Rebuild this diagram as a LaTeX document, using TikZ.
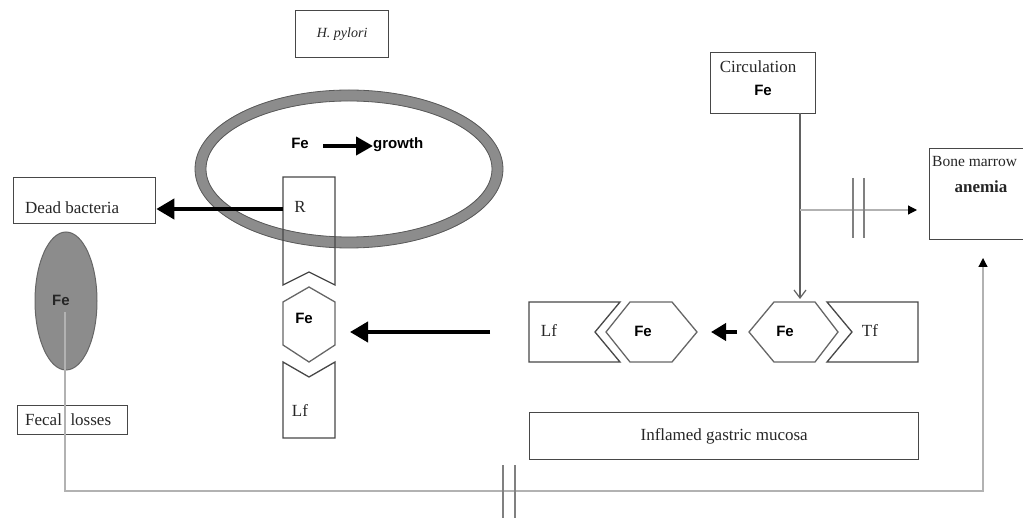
\documentclass[tikz,border=0pt]{standalone}
\usepackage{fontspec}
\setmainfont{Liberation Serif}
\newfontfamily\sansfam{Liberation Sans}
\usetikzlibrary{arrows.meta,shapes.geometric}
\begin{document}
\begin{tikzpicture}[x=1pt,y=-1pt,
  boxline/.style={draw=black!72, line width=1.3pt},
  rectbox/.style={boxline, rectangle, inner sep=0pt, anchor=north west},
  serif/.style={font=\fontsize{17}{20}\selectfont, inner sep=0pt, text=black!85},
  sansbold/.style={font=\sansfam\bfseries\fontsize{15}{18}\selectfont, inner sep=0pt},
  bigarrow/.style={line width=4pt, -{Triangle[length=18pt,width=20pt]}},
  midarrow/.style={line width=4pt, -{Triangle[length=15pt,width=17pt]}},
  thinline/.style={draw=black!30, line width=1.2pt},
  breakmark/.style={draw=black!50, line width=1.3pt},
  smalltip/.style={-{Triangle[length=9pt,width=9pt,color=black]}},
]
\useasboundingbox (0,0) rectangle (1023,518);
\clip (0,0) rectangle (1023,518);

% H. pylori label
\node[rectbox, minimum width=93pt, minimum height=47pt] (hpbox) at (295,10) {};
\node[font=\itshape\fontsize{14}{17}\selectfont, inner sep=0pt, text=black!85] (hpy) at (hpbox.center) {H. pylori};

% bacterium cell ring
\node[ellipse, draw=black!45, line width=11pt, minimum width=297pt, minimum height=147pt, inner sep=0pt] (cell) at (349,169) {};
\draw[draw=black!65, line width=0.8pt] (cell.center) ellipse [x radius=154pt, y radius=79pt];
\draw[draw=black!65, line width=0.8pt] (cell.center) ellipse [x radius=143pt, y radius=68pt];

% Fe -> growth
\node[sansbold] (fecell) at (300,143) {Fe};
\node[sansbold, anchor=west] (growth) at (373,145) {growth};
\coordinate (fgA) at (323,146);
\draw[line width=4pt, -{Triangle[length=17pt,width=18pt]}] (fgA) -- (fgA -| growth.west);

% Dead bacteria
\node[rectbox, minimum width=142pt, minimum height=46pt] (dead) at (13,177) {};
\node[serif, anchor=west] (deadt) at (25,208) {Dead bacteria};

% receptor column
\draw[boxline] (283,177) -- (335,177) -- (335,285) -- (309,272) -- (283,285) -- cycle;
\node[serif] (Rl) at (300,207) {R};
\draw[boxline, draw=black!60] (309,287) -- (335,302) -- (335,345) -- (309,362) -- (283,345) -- (283,302) -- cycle;
\node[sansbold] (colfe) at (304,318) {Fe};
\draw[boxline] (283,362) -- (309,377) -- (335,362) -- (335,438) -- (283,438) -- cycle;
\node[serif] (collf) at (300,411) {Lf};

\coordinate (Rw) at (283,209);
\draw[bigarrow] (Rw) -- (Rw -| dead.east);

% left Fe ellipse
\node[ellipse, draw=black!60, fill=black!45, line width=1pt, minimum width=62pt, minimum height=138pt, inner sep=0pt] (leftfe) at (66,301) {};
\node[sansbold, text=black!85] (leftfet) at (61,300) {Fe};

% Fecal losses
\node[rectbox, minimum width=110pt, minimum height=29pt] (fecal) at (17,405) {};
\node[serif, anchor=west] (fecalt) at (25,420) {Fecal~~losses};

% bottom loss line to bone marrow
\coordinate (lossstart) at (65,312);
\coordinate (bmin) at (983,258);
\draw[thinline, smalltip] (lossstart) -- (65,491) -- (983,491) -- (bmin);
\draw[breakmark] (503,465) -- (503,520);
\draw[breakmark] (515,465) -- (515,520);

% row: Lf - Fe  <-  Fe - Tf
\draw[boxline] (529,302) -- (620,302) -- (595,332) -- (620,362) -- (529,362) -- cycle;
\node[serif] (rowlf) at (549,331) {Lf};
\draw[boxline, draw=black!60] (606,332) -- (630,302) -- (672,302) -- (697,332) -- (672,362) -- (630,362) -- cycle;
\node[sansbold] (rowfe1) at (643,331) {Fe};
\draw[boxline, draw=black!60] (749,332) -- (774,302) -- (815,302) -- (838,332) -- (815,362) -- (774,362) -- cycle;
\node[sansbold] (rowfe2) at (785,331) {Fe};
\draw[boxline] (827,302) -- (918,302) -- (918,362) -- (827,362) -- (852,332) -- cycle;
\node[serif] (rowtf) at (870,331) {Tf};

\coordinate (midtail) at (737,332);
\coordinate (midtip) at (711,332);
\draw[midarrow] (midtail) -- (midtip);

\coordinate (rowtail) at (490,332);
\coordinate (coltip) at (350,332);
\draw[bigarrow] (rowtail) -- (coltip);

% Inflamed gastric mucosa
\node[rectbox, minimum width=389pt, minimum height=47pt] (mucosa) at (529,412) {};
\node[serif] (mucosat) at (mucosa.center) {Inflamed gastric mucosa};

% Circulation
\node[rectbox, minimum width=105pt, minimum height=61pt] (circ) at (710,52) {};
\node[serif] (circt) at (758,67) {Circulation};
\node[sansbold] (circfe) at (763,90) {Fe};

\coordinate (vtop) at (800,113);
\coordinate (hextop) at (800,299);
\draw[draw=black!62, line width=1.2pt, -{Straight Barb[length=8pt,width=12pt]}] (vtop) -- (hextop);

% Bone marrow
\node[rectbox, minimum width=110pt, minimum height=91pt] (bm) at (929,148) {};
\node[serif, font=\fontsize{15.5}{18}\selectfont, anchor=west] (bmt) at (932,162) {Bone marrow};
\node[serif, font=\bfseries\fontsize{17}{20}\selectfont] (anemia) at (981,187) {anemia};

\coordinate (branch) at (800,210);
\coordinate (bmtip) at (917,210);
\draw[thinline, smalltip] (branch) -- (bmtip);
\draw[breakmark] (853,178) -- (853,238);
\draw[breakmark] (864,178) -- (864,238);
\end{tikzpicture}
\end{document}
